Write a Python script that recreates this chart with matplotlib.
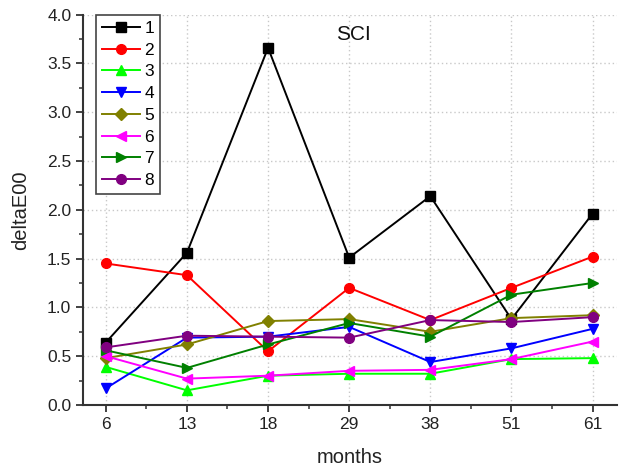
import matplotlib
matplotlib.use("Agg")
import matplotlib.pyplot as plt
from matplotlib.ticker import MultipleLocator, FormatStrFormatter

plt.rcParams['font.family'] = ['Liberation Sans', 'DejaVu Sans']

months = ["6", "13", "18", "29", "38", "51", "61"]
s1 = [0.64, 1.56, 3.66, 1.51, 2.14, 0.88, 1.96]
s2 = [1.45, 1.33, 0.55, 1.20, 0.87, 1.20, 1.52]
s3 = [0.39, 0.15, 0.30, 0.32, 0.32, 0.47, 0.48]
s4 = [0.17, 0.69, 0.70, 0.80, 0.44, 0.58, 0.78]
s5 = [0.48, 0.62, 0.86, 0.88, 0.75, 0.89, 0.92]
s6 = [0.50, 0.27, 0.30, 0.35, 0.36, 0.47, 0.65]
s7 = [0.56, 0.38, 0.62, 0.84, 0.70, 1.13, 1.25]
s8 = [0.59, 0.71, 0.70, 0.69, 0.87, 0.85, 0.90]
labels = ["1", "2", "3", "4", "5", "6", "7", "8"]
series = [s1, s2, s3, s4, s5, s6, s7, s8]
colors = ["#000000", "#ff0000", "#00ff00", "#0000ff", "#808000", "#ff00ff", "#008000", "#800080"]
markers = ["s", "o", "^", "v", "D", "<", ">", "o"]

fig = plt.figure(figsize=(6.2, 4.72), dpi=100)
ax = fig.add_axes([0.134, 0.142, 0.861, 0.827])

x = list(range(len(months)))
for ys, lab, c, m in zip(series, labels, colors, markers):
    ms = 7 if m not in ("D",) else 6
    ax.plot(x, ys, color=c, marker=m, markersize=ms, linewidth=1.4,
            markeredgecolor=c, label=lab)

ax.set_xlim(-0.28, 6.3)
ax.set_ylim(0, 4.0)
ax.set_xticks(x)
ax.set_xticklabels(months)
ax.xaxis.set_minor_locator(MultipleLocator(0.5))
ax.yaxis.set_major_locator(MultipleLocator(0.5))
ax.yaxis.set_minor_locator(MultipleLocator(0.25))
ax.yaxis.set_major_formatter(FormatStrFormatter('%.1f'))

for s in ["top", "right"]:
    ax.spines[s].set_visible(False)
for s in ["left", "bottom"]:
    ax.spines[s].set_color("#333333")
    ax.spines[s].set_linewidth(1.5)

ax.tick_params(which="major", direction="out", length=5, width=1.3, color="#333333",
               labelsize=12.5, labelcolor="#222222")
ax.tick_params(which="minor", direction="out", length=3, width=1.1, color="#333333")

ax.grid(True, which="major", linestyle=(0, (1, 2)), color="#c8c8c8", linewidth=1.0)
ax.set_axisbelow(True)

ax.set_xlabel("months", fontsize=14.5, color="#222222", labelpad=12)
ax.set_ylabel("deltaE00", fontsize=14.5, color="#222222", labelpad=12)

ax.text(3.05, 3.8, "SCI", fontsize=15, ha="center", va="center", color="#111111")

leg = ax.legend(loc="upper left", bbox_to_anchor=(0.024, 1.0), fontsize=12.5,
                frameon=True, fancybox=False, handlelength=2.2, borderpad=0.35,
                labelspacing=0.38, handletextpad=0.25, borderaxespad=0.0)
leg.get_frame().set_edgecolor("#444444")
leg.get_frame().set_linewidth(1.2)
leg.get_frame().set_facecolor("white")
leg.get_frame().set_alpha(1.0)

fig.savefig("out.png", dpi=100)
